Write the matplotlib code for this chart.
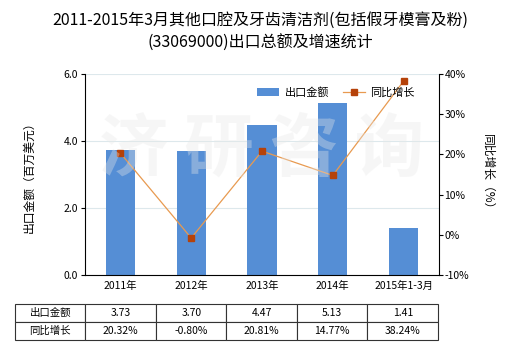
import matplotlib
matplotlib.use("Agg")
import matplotlib.pyplot as plt
import numpy as np

plt.rcParams['font.family'] = ['Noto Sans CJK SC', 'DejaVu Sans']

categories = ['2011年', '2012年', '2013年', '2014年', '2015年1-3月']
export_values = [3.73, 3.70, 4.47, 5.13, 1.41]
growth_rates = [20.32, -0.80, 20.81, 14.77, 38.24]
value_labels = ['3.73', '3.70', '4.47', '5.13', '1.41']
growth_labels = ['20.32%', '-0.80%', '20.81%', '14.77%', '38.24%']

title_line1 = '2011-2015年3月其他口腔及牙齿清洁剂(包括假牙模膏及粉)'
title_line2 = '(33069000)出口总额及增速统计'

fig = plt.figure(figsize=(5.2, 3.5), dpi=100)
ax = fig.add_axes([85/520, 75/350, (439-85)/520, (275-74)/350])
x = np.arange(len(categories))

bar_color = '#558ED5'
ax.bar(x, export_values, width=0.41, color=bar_color, zorder=2, label='出口金额')
ax.set_ylim(0, 6)
ax.set_xlim(-0.5, len(categories) - 0.5)
ax.set_yticks([0, 2, 4, 6])
ax.set_yticklabels(['0.0', '2.0', '4.0', '6.0'], fontsize=7.5)
ax.grid(axis='y', color='#DDE8EC', linewidth=0.8, zorder=0)
ax.set_xticks(x)
ax.set_xticklabels(categories, fontsize=7.5)
ax.tick_params(axis='x', length=0, pad=4)
ax.tick_params(axis='y', length=3, width=0.8, pad=2)
for s in ['top', 'right']:
    ax.spines[s].set_visible(False)
ax.spines['left'].set_linewidth(0.8)
ax.spines['bottom'].set_linewidth(0.8)
ax.set_ylabel('出口金额（百万美元）', fontsize=8.5, labelpad=20)

ax2 = ax.twinx()
ax2.plot(x, growth_rates, color='#E89A50', linewidth=0.9, marker='s', markersize=4.5,
         markerfacecolor='#B5420A', markeredgecolor='#B5420A', zorder=3, label='同比增长')
ax2.set_ylim(-10, 40)
ax2.set_yticks([-10, 0, 10, 20, 30, 40])
ax2.set_yticklabels(['-10%', '0%', '10%', '20%', '30%', '40%'], fontsize=7.5)
ax2.tick_params(axis='y', length=3, width=0.8, pad=1)
for s in ['top', 'left', 'bottom']:
    ax2.spines[s].set_visible(False)
ax2.spines['right'].set_linewidth(0.8)
ax2.set_ylabel('同比增长（%）', fontsize=8.5, rotation=270, labelpad=18)

# watermark
ax2.text(0.5, 0.62, '济 研 咨 询', transform=ax.transAxes, fontsize=50, color='#E8E8E8',
         alpha=0.35, ha='center', va='center', fontweight='bold', zorder=4)

h1, l1 = ax.get_legend_handles_labels()
h2, l2 = ax2.get_legend_handles_labels()
ax2.legend(h1 + h2, l1 + l2, loc='upper right', bbox_to_anchor=(0.96, 0.985), ncol=2,
           frameon=False, fontsize=8, handlelength=2.0, handletextpad=0.5, columnspacing=1.2)

fig.text(0.5, 1 - 20/350, title_line1, fontsize=11.5, ha='center', va='center')
fig.text(0.5, 1 - 43/350, title_line2, fontsize=11.5, ha='center', va='center')

cell_text = [['出口金额'] + value_labels, ['同比增长'] + growth_labels]
tbl = ax.table(cellText=cell_text, cellLoc='center',
               bbox=[-70/354, -(340-275)/201, (438-15)/354, 36/201])
tbl.auto_set_font_size(False)
tbl.set_fontsize(7.5)
for (r, c), cell in tbl.get_celld().items():
    cell.set_linewidth(0.8)
    cell.set_edgecolor('#333333')
    if c == 0:
        cell._loc = 'left'
        cell.PAD = 0.03

fig.savefig('out.png', dpi=100)
